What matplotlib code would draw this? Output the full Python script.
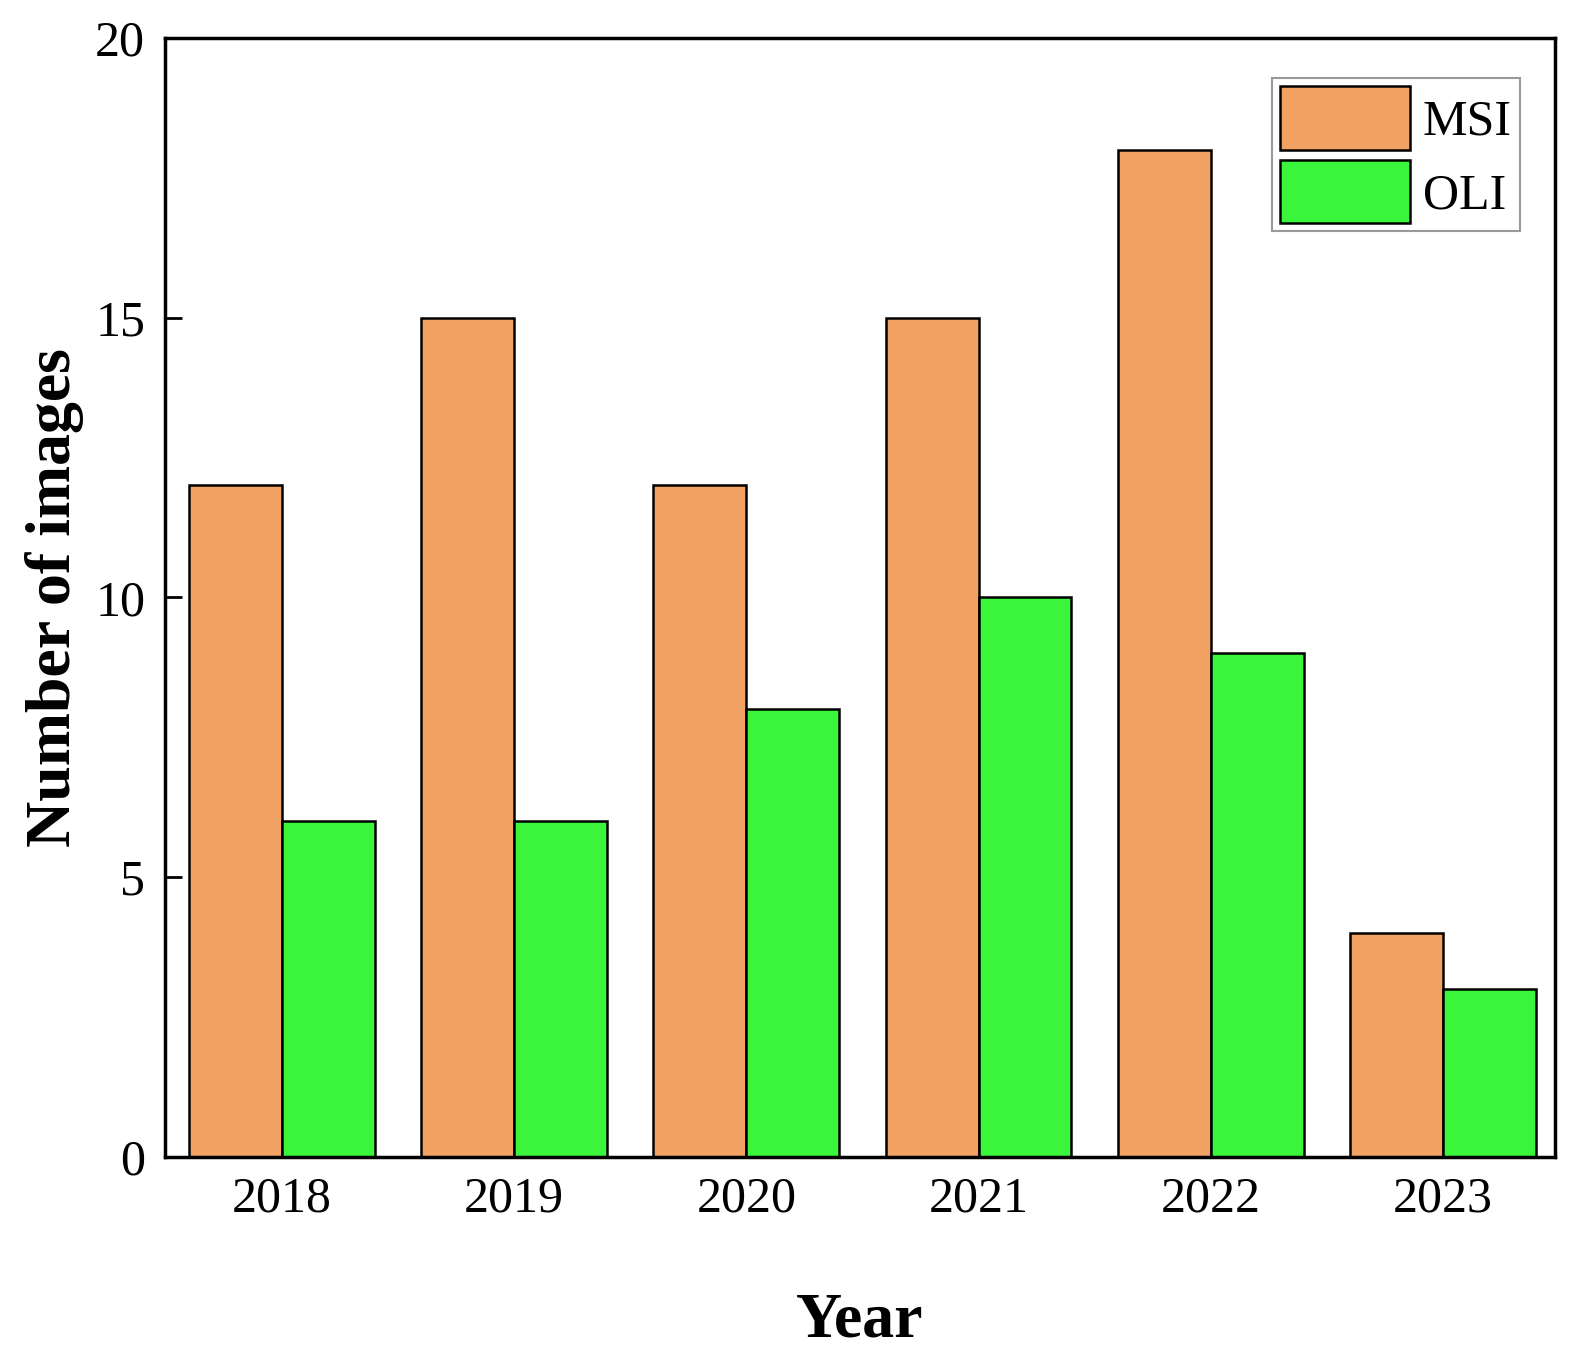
import numpy as np
import matplotlib.pyplot as plt

years = ['2018', '2019', '2020', '2021', '2022', '2023']
msi = [12, 15, 12, 15, 18, 4]
oli = [6, 6, 8, 10, 9, 3]

plt.rcParams['font.family'] = ['Liberation Serif', 'DejaVu Serif']

fig = plt.figure(figsize=(15.83, 13.56), dpi=100)
ax = fig.add_axes([0.104, 0.147, 0.878, 0.825])

x = np.arange(len(years))
w = 0.4
ax.bar(x - w / 2, msi, w, color='#F2A262', edgecolor='black', linewidth=1.8, label='MSI')
ax.bar(x + w / 2, oli, w, color='#3AF53A', edgecolor='black', linewidth=1.8, label='OLI')

ax.set_xlim(-0.505, 5.48)
ax.set_ylim(0, 20)
ax.set_yticks([0, 5, 10, 15, 20])
ax.set_xticks(x)
ax.set_xticklabels(years)
ax.tick_params(axis='y', direction='in', length=12, width=2, labelsize=36, pad=14)
ax.tick_params(axis='x', length=0, labelsize=36, pad=14)
for s in ax.spines.values():
    s.set_linewidth(2.5)

ax.set_xlabel('Year', fontsize=46, fontweight='bold', labelpad=50)
ax.set_ylabel('Number of images', fontsize=46, fontweight='bold', labelpad=8)

leg = ax.legend(loc='upper right', fontsize=36, handlelength=2.6, handleheight=1.58,
                fancybox=False, edgecolor='gray', borderpad=0.16, labelspacing=0.2,
                handletextpad=0.25, borderaxespad=0, bbox_to_anchor=(0.975, 0.964))
leg.get_frame().set_linewidth(1.5)

fig.savefig('out.png', dpi=100)
